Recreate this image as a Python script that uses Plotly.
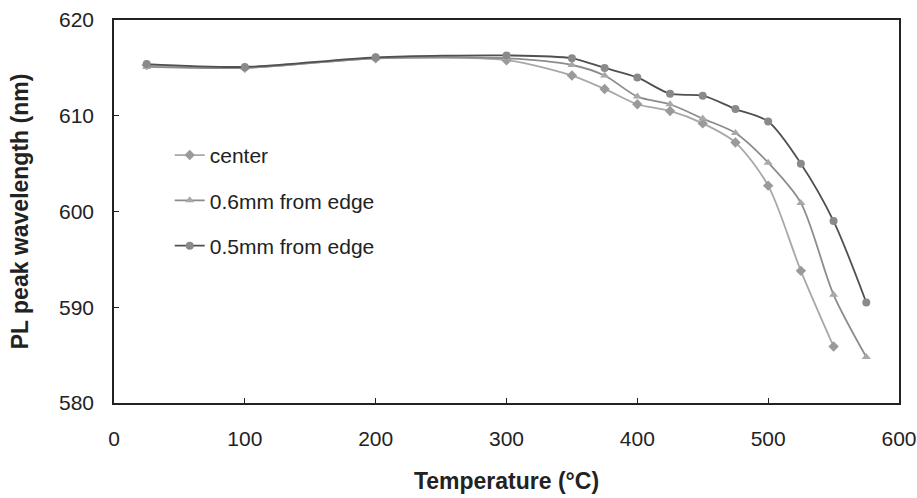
import plotly.graph_objects as go

# Temperature points (°C)
temp_center = [25, 100, 200, 300, 350, 375, 400, 425, 450, 475, 500, 525, 550]
temp_edge = [25, 100, 200, 300, 350, 375, 400, 425, 450, 475, 500, 525, 550, 575]

# PL peak wavelength (nm)
pl_center = [615.3, 615.0, 616.0, 615.8, 614.2, 612.8, 611.2, 610.5, 609.2, 607.2, 602.7, 593.8, 585.9]
pl_06mm = [615.1, 615.0, 616.0, 616.0, 615.3, 614.2, 612.0, 611.2, 609.7, 608.2, 605.1, 600.9, 591.3, 584.8]
pl_05mm = [615.4, 615.1, 616.1, 616.3, 616.0, 615.0, 614.0, 612.3, 612.1, 610.7, 609.4, 605.0, 599.0, 590.5]

series_names = ["center", "0.6mm from edge", "0.5mm from edge"]

x_ticks = [0, 100, 200, 300, 400, 500, 600]
y_ticks = [580, 590, 600, 610, 620]

FONT = "Liberation Sans, Arial, sans-serif"

fig = go.Figure()

fig.add_trace(go.Scatter(
    x=temp_center, y=pl_center, name=series_names[0], mode="lines+markers",
    line=dict(color="#a8a8a8", width=1.8, shape="spline", smoothing=0.8),
    marker=dict(symbol="diamond", size=8, color="#9a9a9a"),
    legendgroup="a",
))
fig.add_trace(go.Scatter(
    x=temp_edge, y=pl_06mm, name=series_names[1], mode="lines+markers",
    line=dict(color="#8c8c8c", width=1.8, shape="spline", smoothing=0.8),
    marker=dict(symbol="triangle-up", size=8, color="#a8a8a8"),
    legendgroup="b",
))
fig.add_trace(go.Scatter(
    x=temp_edge, y=pl_05mm, name=series_names[2], mode="lines+markers",
    line=dict(color="#505050", width=1.8, shape="spline", smoothing=0.8),
    marker=dict(symbol="circle", size=8, color="#8a8a8a"),
    legendgroup="c",
))

fig.update_layout(
    width=917, height=498,
    margin=dict(l=114, r=18, t=20, b=95),
    paper_bgcolor="white", plot_bgcolor="white",
    font=dict(family=FONT, size=20, color="#222"),
    showlegend=True,
    legend=dict(
        x=0.071, y=0.70, xanchor="left", yanchor="top",
        bgcolor="rgba(0,0,0,0)", font=dict(size=21, color="#222"),
        traceorder="grouped", tracegroupgap=15, itemwidth=30,
    ),
    xaxis=dict(
        range=[0, 600], tickvals=x_ticks, ticks="inside", ticklen=5,
        tickcolor="#222", showline=True, linecolor="#222", linewidth=1.5,
        mirror=True, showgrid=False, zeroline=False, ticklabelstandoff=16,
        tickfont=dict(size=21), automargin=False,
        title=dict(text="<b>Temperature (°C)</b>", font=dict(size=23), standoff=24),
    ),
    yaxis=dict(
        range=[580, 620], tickvals=y_ticks, ticks="inside", ticklen=5,
        tickcolor="#222", showline=True, linecolor="#222", linewidth=1.5,
        mirror=True, showgrid=False, zeroline=False, ticklabelstandoff=14,
        tickfont=dict(size=21), automargin=False,
        title=dict(text="<b>PL peak wavelength (nm)</b>", font=dict(size=23), standoff=24),
    ),
)

fig.write_html("out.html")
